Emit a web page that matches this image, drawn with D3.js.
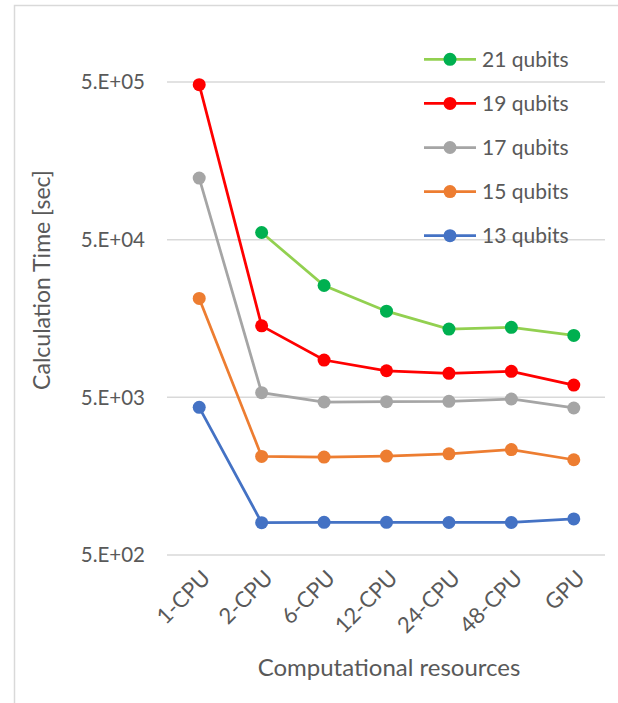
<!DOCTYPE html>
<html>
<head>
<meta charset="utf-8">
<script src="https://cdn.jsdelivr.net/npm/d3@7"></script>
<style>
  body { margin: 0; background: #fff; }
  svg { display: block; }
</style>
</head>
<body>
<div id="chart"></div>
<script>
const categories = ["1-CPU", "2-CPU", "6-CPU", "12-CPU", "24-CPU", "48-CPU", "GPU"];
const qubits13 = [4320, 802, 806, 806, 804, 804, 847];
const qubits15 = [21200, 2110, 2090, 2120, 2190, 2330, 2010];
const qubits17 = [123000, 5350, 4670, 4690, 4720, 4880, 4280];
const qubits19 = [481000, 14200, 8620, 7370, 7100, 7310, 5980];
const qubits21 = [null, 55500, 25600, 17600, 13550, 13900, 12350];
const yTicks = [500, 5000, 50000, 500000];
const legendOrder = ["21 qubits", "19 qubits", "17 qubits", "15 qubits", "13 qubits"];

const width = 618;
const height = 703;
const font = "Lato, 'Open Sans', sans-serif";
const textColor = "#595959";

// drawn bottom series first, like the spreadsheet does
const series = [
    {name: "13 qubits", values: qubits13, line: "#4472C4", dot: "#4472C4"},
    {name: "15 qubits", values: qubits15, line: "#ED7D31", dot: "#ED7D31"},
    {name: "17 qubits", values: qubits17, line: "#A5A5A5", dot: "#A5A5A5"},
    {name: "19 qubits", values: qubits19, line: "#FF0000", dot: "#FF0000"},
    {name: "21 qubits", values: qubits21, line: "#92D050", dot: "#00B050"}
];

const svg = d3.select("#chart").append("svg")
    .attr("width", width)
    .attr("height", height);

// outer chart frame (runs off the right and bottom edge)
svg.append("rect")
    .attr("x", 14.5)
    .attr("y", 5.5)
    .attr("width", 700)
    .attr("height", 800)
    .attr("fill", "none")
    .attr("stroke", "#D9D9D9")
    .attr("stroke-width", 1.5);

const x = d3.scalePoint()
    .domain(categories)
    .range([168, 605])
    .padding(0.5);

const y = d3.scaleLog()
    .domain([500, 500000])
    .range([555, 82]);

const sciFormat = d => {
    const e = Math.floor(Math.log10(d) + 1e-9);
    return `${Math.round(d / Math.pow(10, e))}.E+${String(e).padStart(2, "0")}`;
};

// gridlines
svg.append("g")
    .selectAll("line")
    .data(yTicks)
    .enter().append("line")
    .attr("x1", 167)
    .attr("x2", 605)
    .attr("y1", d => y(d))
    .attr("y2", d => y(d))
    .attr("stroke", "#D9D9D9")
    .attr("stroke-width", 1.5);

// y tick labels
svg.append("g")
    .selectAll("text")
    .data(yTicks)
    .enter().append("text")
    .attr("x", 145)
    .attr("y", d => y(d))
    .attr("dy", "0.35em")
    .attr("text-anchor", "end")
    .style("font-family", font)
    .style("font-size", "20.5px")
    .attr("fill", textColor)
    .text(sciFormat);

// x tick labels, rotated
svg.append("g")
    .selectAll("text")
    .data(categories)
    .enter().append("text")
    .attr("transform", d => `translate(${x(d) + 7},${574}) rotate(-45)`)
    .attr("dy", "0.35em")
    .attr("text-anchor", "end")
    .style("font-family", font)
    .style("font-size", "22px")
    .attr("fill", textColor)
    .text(d => d);

// axis titles
svg.append("text")
    .attr("transform", `translate(50,280) rotate(-90)`)
    .attr("text-anchor", "middle")
    .style("font-family", font)
    .style("font-size", "23px")
    .attr("fill", textColor)
    .text("Calculation Time [sec]");

svg.append("text")
    .attr("x", 389)
    .attr("y", 676)
    .attr("text-anchor", "middle")
    .style("font-family", font)
    .style("font-size", "24px")
    .attr("fill", textColor)
    .text("Computational resources");

const line = d3.line()
    .defined(d => d != null)
    .x((d, i) => x(categories[i]))
    .y(d => y(d));

const groups = svg.append("g")
    .selectAll("g")
    .data(series)
    .enter().append("g");

groups.append("path")
    .attr("d", d => line(d.values))
    .attr("fill", "none")
    .attr("stroke", d => d.line)
    .attr("stroke-width", 2.75);

groups.selectAll("circle")
    .data(d => d.values.map((v, i) => ({v, i, color: d.dot})).filter(p => p.v != null))
    .enter().append("circle")
    .attr("cx", p => x(categories[p.i]))
    .attr("cy", p => y(p.v))
    .attr("r", 6.5)
    .attr("fill", p => p.color);

// legend
const legend = svg.append("g")
    .selectAll("g")
    .data(legendOrder.map(n => series.find(s => s.name === n)))
    .enter().append("g")
    .attr("transform", (d, i) => `translate(424,${59.3 + i * 44.1})`);

legend.append("line")
    .attr("x1", 0)
    .attr("x2", 52)
    .attr("stroke", d => d.line)
    .attr("stroke-width", 2.75);

legend.append("circle")
    .attr("cx", 26)
    .attr("r", 6.5)
    .attr("fill", d => d.dot);

legend.append("text")
    .attr("x", 58)
    .attr("dy", "0.35em")
    .style("font-family", font)
    .style("font-size", "21px")
    .attr("fill", textColor)
    .text(d => d.name);
</script>
</body>
</html>
